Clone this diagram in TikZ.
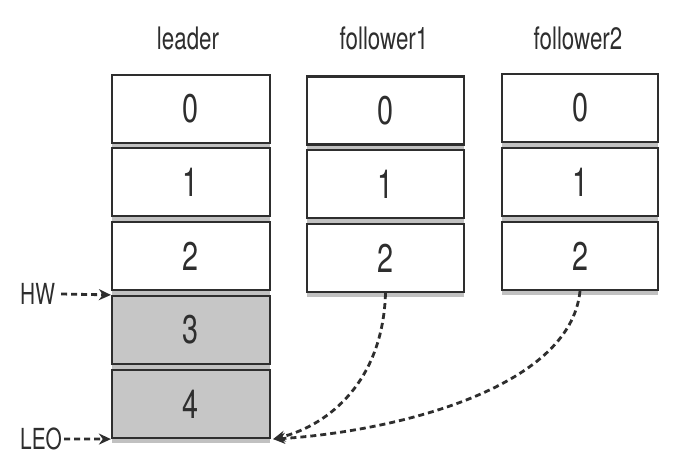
\documentclass[tikz,border=0pt]{standalone}
\usepackage{fontspec}
\setmainfont{TeX Gyre Heros}[FakeStretch=0.72]
\usetikzlibrary{arrows.meta,shadows}
\definecolor{ink}{HTML}{2E2E2E}
\definecolor{cellgray}{HTML}{C6C6C6}
\begin{document}
\begin{tikzpicture}[x=1pt,y=-1pt,
  cell/.style={draw=ink,line width=2.2pt,fill=white,minimum height=68pt,inner sep=0pt,
    font=\fontsize{40}{44}\selectfont,text=ink,
    drop shadow={shadow xshift=0pt,shadow yshift=-5pt,opacity=0.4,fill=black!60}},
  lcell/.style={cell,minimum width=158pt},
  fcell/.style={cell,minimum width=157pt},
  graycell/.style={fill=cellgray},
  title/.style={font=\fontsize{31}{35}\selectfont,text=ink},
  side/.style={font=\fontsize{29}{33}\selectfont,text=ink,inner sep=0pt},
  ptr/.style={draw=ink,line width=2.8pt,dash pattern=on 6pt off 4pt,
    -{Stealth[length=12pt,width=11pt]}}
]
\useasboundingbox (0,0) rectangle (680,463);
\fill[white] (0,0) rectangle (680,463);

% titles
\node[title] (tl) at (188,38) {leader};
\node[title] (tf1) at (384,38) {follower1};
\node[title] (tf2) at (578,38) {follower2};

% leader cells
\node[lcell] (L0) at (191,109) {0};
\node[lcell] (L1) at (191,182) {1};
\node[lcell] (L2) at (191,256) {2};
\node[lcell,graycell] (L3) at (191,330) {3};
\node[lcell,graycell] (L4) at (191,404) {4};

% follower1 cells
\node[fcell] (A0) at (385.5,110.5) {0};
\node[fcell] (A1) at (385.5,184) {1};
\node[fcell] (A2) at (385.5,258) {2};

% follower2 cells
\node[fcell,minimum width=156pt] (B0) at (580,108) {0};
\node[fcell,minimum width=156pt] (B1) at (580,182) {1};
\node[fcell,minimum width=156pt] (B2) at (580,256) {2};

% side labels
\node[side,anchor=west] (hw) at (20,294) {HW};
\node[side,anchor=west] (leo) at (20,439) {LEO};

\draw[ptr] (hw.east) ++(6,0) coordinate (hws) -- (L3.north west);
\draw[ptr] (leo.east) ++(2,0) coordinate (leos) -- (L4.south west);

% replication curves
\draw[ptr] (A2.south) .. controls (383,380) and (330,425) .. ([xshift=2pt]L4.south east);
\draw[ptr] (B2.south) .. controls (570,390) and (390,432) .. ([xshift=2pt]L4.south east);
\end{tikzpicture}
\end{document}
